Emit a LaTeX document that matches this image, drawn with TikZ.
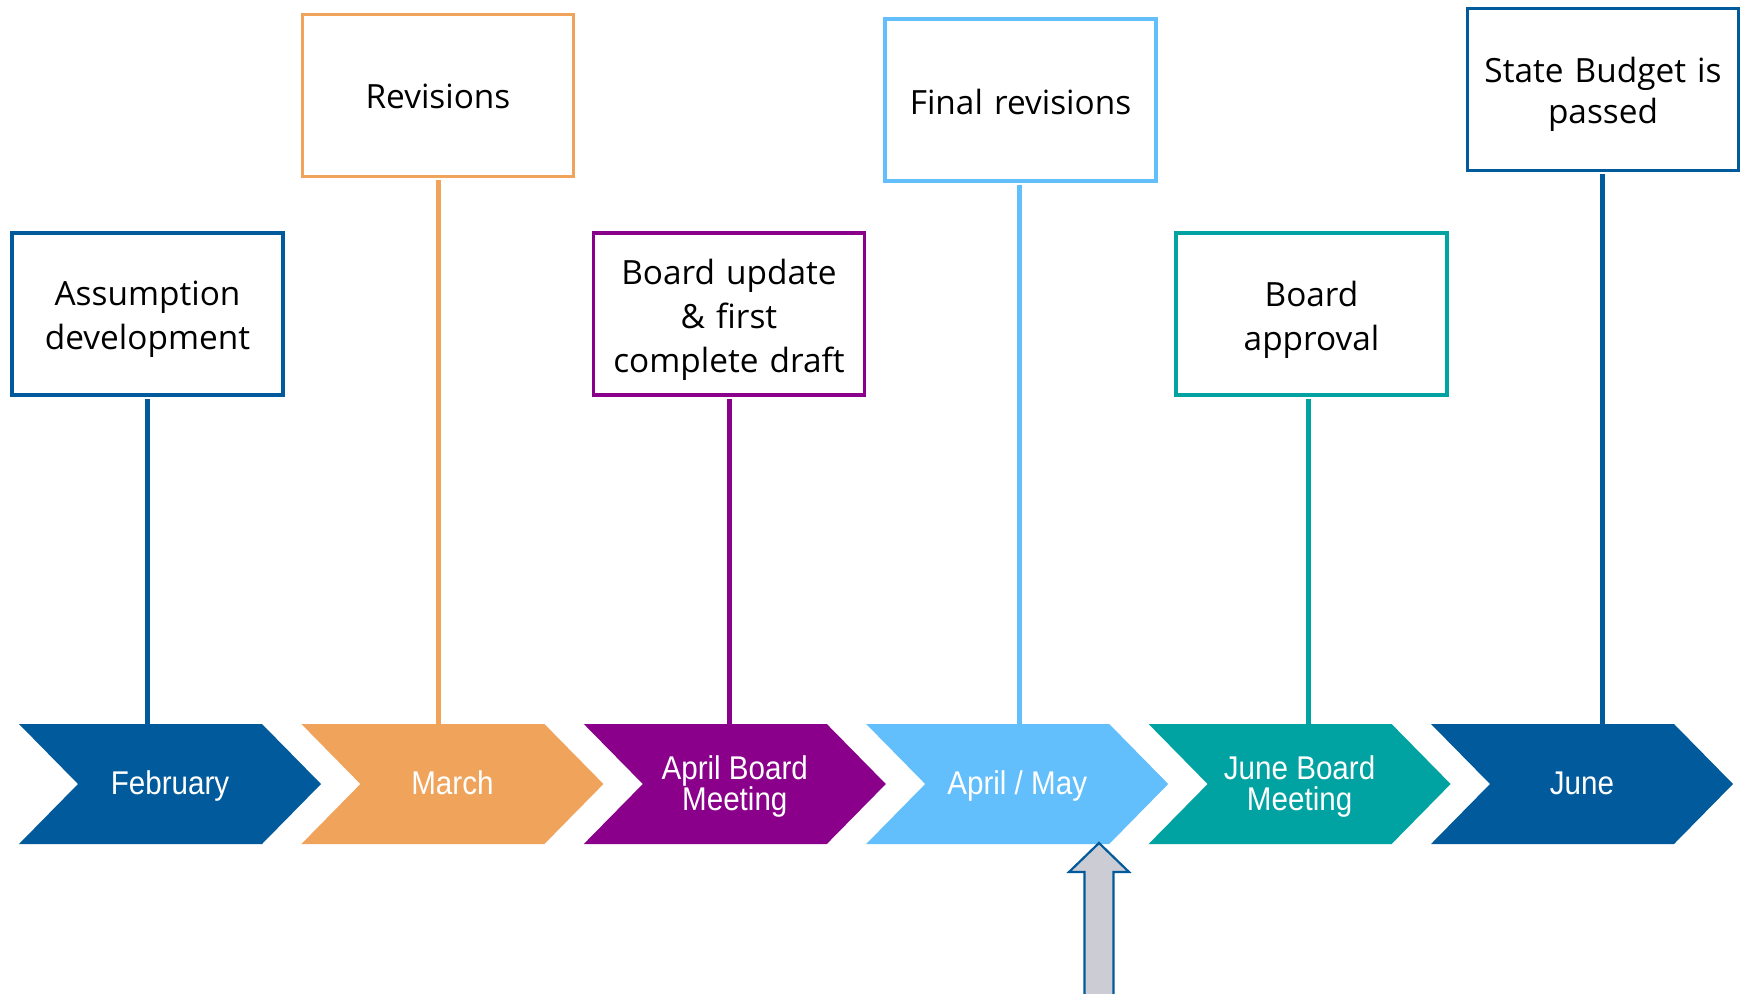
\documentclass[tikz,border=0pt]{standalone}
\usepackage{fontspec}
\setmainfont{Open Sans}
\newfontfamily\chevfont[FakeStretch=0.9]{Liberation Sans}
\definecolor{cblue}{RGB}{0,90,156}
\definecolor{corange}{RGB}{239,163,91}
\definecolor{cpurple}{RGB}{139,0,139}
\definecolor{clight}{RGB}{99,190,252}
\definecolor{cteal}{RGB}{0,163,161}
\definecolor{cgray}{RGB}{203,204,212}
\newcommand\mychev[5][]{%
  \fill[#3] (#2,724) -- ++(243,0) -- ++(59,60) -- ++(-59,60) -- ++(-243,0) -- ++(59,-60) -- cycle;
  \node[mlabel,#1] (#4) at (#2+151,786.5) {#5};}
\newcommand\mybox[5][-5.5bp]{% [shift] name, colour, position, text
  \node[box=#3] (#2) at (#4) {};
  \node[boxtext] (#2t) at ([yshift=#1]#2.center) {#5};}
\begin{document}
\begin{tikzpicture}[x=1bp,y=-1bp,
  box/.style={draw=#1, line width=3.5bp, fill=white, minimum width=271bp, minimum height=162bp, inner sep=0pt},
  boxtext/.style={text width=255bp, align=center, inner sep=0pt, font=\fontsize{33.5}{44}\selectfont},
  stem/.style={draw=#1, line width=5bp},
  mlabel/.style={text=white, align=center, inner sep=0pt, font=\chevfont\fontsize{33}{32}\selectfont},
  one/.style={text height=22bp, text depth=6bp}]
\useasboundingbox (0,0) rectangle (1743,993);

% chevrons
\mychev[one]{19}{cblue}{m1}{February}
\mychev[one]{301.4}{corange}{m2}{March}
\mychev{583.8}{cpurple}{m3}{April Board\\Meeting}
\mychev[one]{866.2}{clight}{m4}{April / May}
\mychev{1148.6}{cteal}{m5}{June Board\\Meeting}
\mychev[one]{1431}{cblue}{m6}{June}

% boxes
\mybox{b1}{cblue}{147.5,314}{Assumption\\development}
\mybox[-1bp]{b2}{corange}{438,95.5}{Revisions}
\mybox{b3}{cpurple}{729,314}{Board update\\\& first\\complete draft}
\mybox[-2bp]{b4}{clight}{1020.5,100}{Final revisions}
\mybox{b5}{cteal}{1311.5,314}{Board\\approval}
\mybox[-5bp]{b6}{cblue}{1603,89.5}{State Budget is\\[-3bp]passed}

% stem end points on the chevrons' top edge
\coordinate (t1) at (147,724);
\coordinate (t2) at (438,724);
\coordinate (t3) at (729,724);
\coordinate (t4) at (1019,724);
\coordinate (t5) at (1308,724);
\coordinate (t6) at (1602,724);

\draw[stem=cblue]   (b1.south -| t1) ++(0,2) -- (t1);
\draw[stem=corange] (b2.south -| t2) ++(0,2) -- (t2);
\draw[stem=cpurple] (b3.south -| t3) ++(0,2) -- (t3);
\draw[stem=clight]  (b4.south -| t4) ++(0,2) -- (t4);
\draw[stem=cteal]   (b5.south -| t5) ++(0,2) -- (t5);
\draw[stem=cblue]   (b6.south -| t6) ++(0,2) -- (t6);

% up arrow
\draw[draw=cblue, fill=cgray, line width=2.2bp, line join=miter]
  (1099,843) -- (1129,872) -- (1113.5,872) -- (1113.5,1000) -- (1084.5,1000)
  -- (1084.5,872) -- (1069,872) -- cycle;
\end{tikzpicture}
\end{document}
